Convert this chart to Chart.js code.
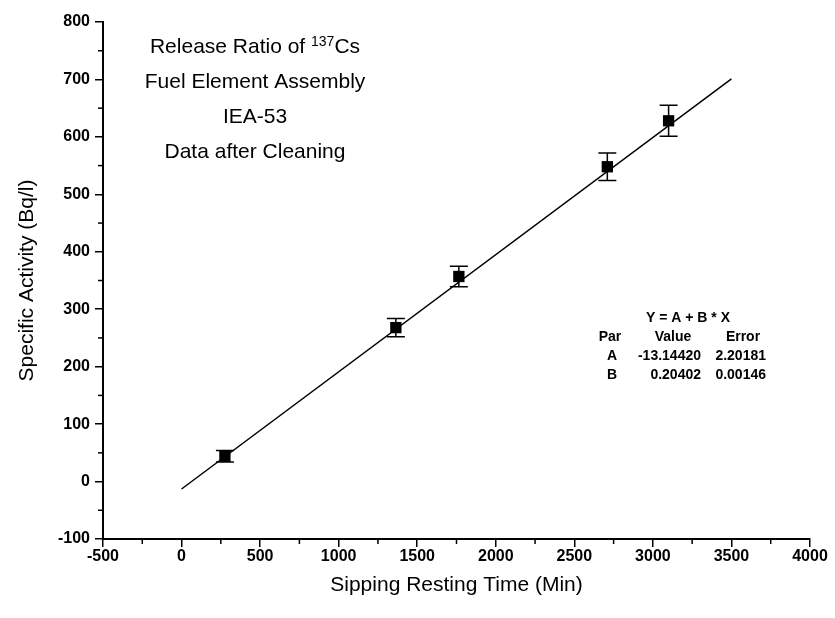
<!DOCTYPE html>
<html>
<head>
<meta charset="utf-8">
<script src="https://cdn.jsdelivr.net/npm/chart.js@4"></script>
<style>
  html, body { margin: 0; padding: 0; background: #fff; }
  #wrap { width: 835px; height: 618px; }
</style>
</head>
<body>
<div id="wrap"><canvas id="chart" width="835" height="618"></canvas></div>
<script>
const times = [276, 1364, 1765, 2710, 3100];      // Sipping Resting Time (Min)
const activity = [44, 268, 357, 548, 628];         // Specific Activity (Bq/l)
const errors = [10, 16, 18, 24, 27];               // 誤差棒
// 回帰直線の両端
const fitX = [0, 3500];
const fitY = [-13, 701];
// 目盛り
const xTicks = [-500, 0, 500, 1000, 1500, 2000, 2500, 3000, 3500, 4000];
const xMinor = [-250, 250, 750, 1250, 1750, 2250, 2750, 3250, 3750];
const yTicks = [-100, 0, 100, 200, 300, 400, 500, 600, 700, 800];
const yMinor = [-50, 50, 150, 250, 350, 450, 550, 650, 750];
// 注記
const titleLines = ['Release Ratio of ', 'Fuel Element Assembly', 'IEA-53', 'Data after Cleaning'];
const fitTable = [
  ['Par', 'Value', 'Error'],
  ['A', '-13.14420', '2.20181'],
  ['B', '0.20402', '0.00146']
];

const FONT = "'Liberation Sans', Arial, sans-serif";

const points = times.map((t, i) => ({ x: t, y: activity[i] }));
const fitLine = fitX.map((x, i) => ({ x: x, y: fitY[i] }));

// 誤差棒・補助目盛り・注記
const extras = {
  id: 'extras',
  afterDatasetsDraw(chart) {
    const { ctx, scales: { x, y } } = chart;
    ctx.save();
    ctx.strokeStyle = '#000';
    ctx.lineWidth = 1.5;
    times.forEach((t, i) => {
      const px = x.getPixelForValue(t);
      const top = y.getPixelForValue(activity[i] + errors[i]);
      const bot = y.getPixelForValue(activity[i] - errors[i]);
      ctx.beginPath();
      ctx.moveTo(px, top); ctx.lineTo(px, bot);
      ctx.moveTo(px - 9, top); ctx.lineTo(px + 9, top);
      ctx.moveTo(px - 9, bot); ctx.lineTo(px + 9, bot);
      ctx.stroke();
    });
    // 補助目盛り
    xMinor.forEach(v => {
      const px = x.getPixelForValue(v);
      ctx.beginPath();
      ctx.moveTo(px, y.bottom); ctx.lineTo(px, y.bottom + 5);
      ctx.stroke();
    });
    yMinor.forEach(v => {
      const py = y.getPixelForValue(v);
      ctx.beginPath();
      ctx.moveTo(x.left, py); ctx.lineTo(x.left - 5, py);
      ctx.stroke();
    });
    ctx.restore();
  },
  afterDraw(chart) {
    const ctx = chart.ctx;
    ctx.save();
    ctx.fillStyle = '#000';
    ctx.textBaseline = 'middle';
    // タイトル
    const big = '21px ' + FONT;
    const sup = '14px ' + FONT;
    const cx = 255;
    const ys = [47, 82, 117, 152];
    ctx.font = big;
    const w1 = ctx.measureText(titleLines[0]).width;
    const w3 = ctx.measureText('Cs').width;
    ctx.font = sup;
    const w2 = ctx.measureText('137').width;
    const sx = cx - (w1 + w2 + w3) / 2;
    ctx.textAlign = 'left';
    ctx.font = big;
    ctx.fillText(titleLines[0], sx, ys[0]);
    ctx.font = sup;
    ctx.fillText('137', sx + w1, ys[0] - 5);
    ctx.font = big;
    ctx.fillText('Cs', sx + w1 + w2, ys[0]);
    ctx.textAlign = 'center';
    for (let i = 1; i < titleLines.length; i++) {
      ctx.fillText(titleLines[i], cx, ys[i]);
    }
    // 回帰式の表
    ctx.font = 'bold 14px ' + FONT;
    ctx.textAlign = 'center';
    ctx.fillText('Y = A + B * X', 688, 318);
    ctx.fillText(fitTable[0][0], 610, 337);
    ctx.fillText(fitTable[0][1], 673, 337);
    ctx.fillText(fitTable[0][2], 743, 337);
    for (let r = 1; r < fitTable.length; r++) {
      const yy = 337 + r * 19;
      ctx.textAlign = 'center';
      ctx.fillText(fitTable[r][0], 612, yy);
      ctx.textAlign = 'right';
      ctx.fillText(fitTable[r][1], 701, yy);
      ctx.fillText(fitTable[r][2], 766, yy);
    }
    ctx.restore();
  }
};

const ctx = document.getElementById('chart').getContext('2d');
const chart = new Chart(ctx, {
  data: {
    datasets: [
      {
        type: 'line',
        data: fitLine,
        borderColor: '#000',
        borderWidth: 1.5,
        pointRadius: 0,
        fill: false,
        order: 2
      },
      {
        type: 'scatter',
        data: points,
        pointStyle: 'rect',
        pointRadius: 8,
        backgroundColor: '#000',
        borderColor: '#000',
        borderWidth: 0,
        order: 1
      }
    ]
  },
  options: {
    responsive: false,
    animation: false,
    devicePixelRatio: 1,
    layout: { padding: { top: 22, right: 25, left: 0, bottom: 0 } },
    plugins: {
      legend: { display: false },
      tooltip: { enabled: false }
    },
    scales: {
      x: {
        type: 'linear',
        min: -500,
        max: 4000,
        afterBuildTicks: s => { s.ticks = xTicks.map(v => ({ value: v })); },
        afterFit: s => { s.height = 79; },
        border: { display: true, color: '#000', width: 2 },
        grid: { display: true, drawOnChartArea: false, drawTicks: true, tickLength: 8, color: '#000', lineWidth: 1.5 },
        ticks: { color: '#000', font: { family: FONT, size: 16, weight: 'bold' }, padding: 0, maxRotation: 0, callback: v => String(v) },
        title: { display: true, text: 'Sipping Resting Time (Min)', color: '#000', font: { family: FONT, size: 21 }, padding: { top: 0, bottom: 20 } }
      },
      y: {
        type: 'linear',
        min: -100,
        max: 800,
        afterBuildTicks: s => { s.ticks = yTicks.map(v => ({ value: v })); },
        afterFit: s => { s.width = 103; },
        border: { display: true, color: '#000', width: 2 },
        grid: { display: true, drawOnChartArea: false, drawTicks: true, tickLength: 8, color: '#000', lineWidth: 1.5 },
        ticks: { color: '#000', font: { family: FONT, size: 16, weight: 'bold' }, padding: 5, callback: v => String(v) },
        title: { display: true, text: 'Specific Activity (Bq/l)', color: '#000', font: { family: FONT, size: 21 }, padding: { top: 15, bottom: 0 } }
      }
    }
  },
  plugins: [extras]
});
</script>
</body>
</html>
